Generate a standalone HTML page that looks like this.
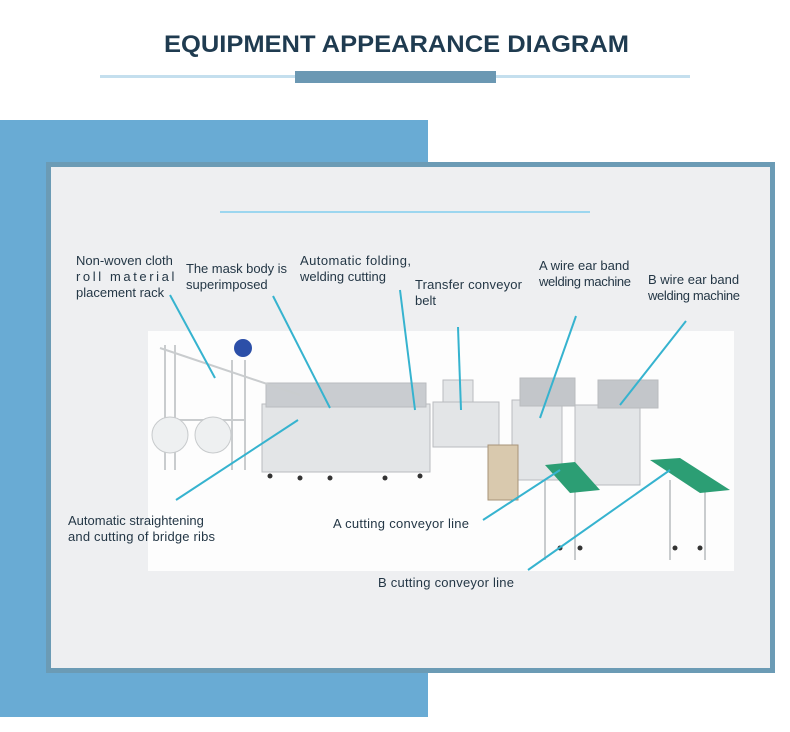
<!DOCTYPE html>
<html><head><meta charset="utf-8"><style>
html,body{margin:0;padding:0;background:#fff;width:790px;height:732px;overflow:hidden}
svg{display:block}
text{font-family:"Liberation Sans Narrow","Liberation Sans",sans-serif;fill:#243746;font-size:13px}
</style></head><body>
<svg width="790" height="732" viewBox="0 0 790 732" xmlns="http://www.w3.org/2000/svg">
<rect x="0" y="0" width="790" height="732" fill="#fff"/>
<text x="164" y="52" textLength="465" lengthAdjust="spacingAndGlyphs" style="font-family:'Liberation Sans',sans-serif;font-size:24px;font-weight:bold;fill:#1f3b50">EQUIPMENT APPEARANCE DIAGRAM</text>
<rect x="100" y="75" width="590" height="3" fill="#c4dfee"/>
<rect x="295" y="71" width="201" height="12" fill="#6b98b3"/>
<rect x="0" y="120" width="428" height="597" fill="#69abd4"/>
<rect x="46" y="162" width="729" height="511" fill="#6b9bb5"/>
<rect x="51" y="167" width="719" height="501" fill="#eeeff1"/>
<rect x="220" y="211" width="370" height="2" fill="#9cd6ef"/>
<rect x="148" y="331" width="586" height="240" fill="#fdfdfd"/>
<g fill="#e3e5e7" stroke="#b9bcbf" stroke-width="1">
<rect x="262" y="404" width="168" height="68"/>
<rect x="266" y="383" width="160" height="24" fill="#c9ccd0"/>
<rect x="433" y="402" width="66" height="45"/>
<rect x="443" y="380" width="30" height="22"/>
<rect x="512" y="400" width="50" height="80"/>
<rect x="575" y="405" width="65" height="80"/>
<rect x="520" y="378" width="55" height="28" fill="#c3c6ca"/>
<rect x="598" y="380" width="60" height="28" fill="#c3c6ca"/>
<rect x="488" y="445" width="30" height="55" fill="#d9c9ae" stroke="#a89478"/>
</g>
<g fill="#333">
<circle cx="270" cy="476" r="2.5"/><circle cx="300" cy="478" r="2.5"/><circle cx="330" cy="478" r="2.5"/><circle cx="385" cy="478" r="2.5"/><circle cx="420" cy="476" r="2.5"/>
<circle cx="560" cy="548" r="2.5"/><circle cx="580" cy="548" r="2.5"/><circle cx="675" cy="548" r="2.5"/><circle cx="700" cy="548" r="2.5"/>
</g>
<g stroke="#c9ccce" stroke-width="2" fill="none">
<line x1="165" y1="345" x2="165" y2="470"/><line x1="175" y1="345" x2="175" y2="470"/>
<line x1="232" y1="360" x2="232" y2="470"/><line x1="245" y1="360" x2="245" y2="470"/>
<line x1="160" y1="348" x2="300" y2="395"/><line x1="165" y1="420" x2="245" y2="420"/>
<line x1="545" y1="480" x2="545" y2="560"/><line x1="575" y1="480" x2="575" y2="560"/>
<line x1="670" y1="480" x2="670" y2="560"/><line x1="705" y1="480" x2="705" y2="560"/>
</g>
<circle cx="170" cy="435" r="18" fill="#eef0f1" stroke="#c7cacc"/>
<circle cx="213" cy="435" r="18" fill="#eef0f1" stroke="#c7cacc"/>
<circle cx="243" cy="348" r="9" fill="#2c4fa8"/>
<g fill="#2c9e74">
<polygon points="545,465 575,462 600,490 570,493"/>
<polygon points="650,460 680,458 730,490 700,493"/>
</g>
<g stroke="#36b3cf" stroke-width="2" fill="none">
<line x1="170" y1="295" x2="215" y2="378"/>
<line x1="273" y1="296" x2="330" y2="408"/>
<line x1="400" y1="290" x2="415" y2="410"/>
<line x1="458" y1="327" x2="461" y2="410"/>
<line x1="576" y1="316" x2="540" y2="418"/>
<line x1="686" y1="321" x2="620" y2="405"/>
<line x1="176" y1="500" x2="298" y2="420"/>
<line x1="483" y1="520" x2="560" y2="470"/>
<line x1="528" y1="570" x2="670" y2="470"/>
</g>
<text x="76" y="265">Non-woven cloth</text>
<text x="76" y="281" style="letter-spacing:2.6px">roll material</text>
<text x="76" y="297">placement rack</text>
<text x="186" y="273" textLength="101">The mask body is</text>
<text x="186" y="289">superimposed</text>
<text x="300" y="265" textLength="111">Automatic folding,</text>
<text x="300" y="281">welding cutting</text>
<text x="415" y="289" textLength="107">Transfer conveyor</text>
<text x="415" y="305">belt</text>
<text x="539" y="270">A wire ear band</text>
<text x="539" y="286" textLength="92">welding machine</text>
<text x="648" y="284">B wire ear band</text>
<text x="648" y="300" textLength="92">welding machine</text>
<text x="68" y="525">Automatic straightening</text>
<text x="68" y="541" textLength="147">and cutting of bridge ribs</text>
<text x="333" y="528" textLength="136">A cutting conveyor line</text>
<text x="378" y="587" textLength="136">B cutting conveyor line</text>
</svg>
</body></html>
